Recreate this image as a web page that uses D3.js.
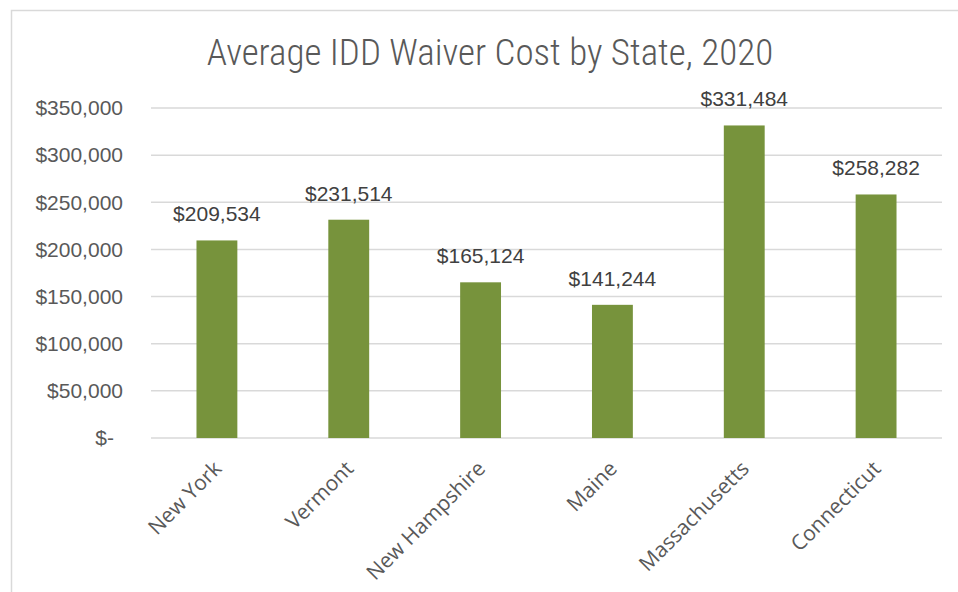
<!DOCTYPE html>
<html>
<head>
<meta charset="utf-8">
<script src="https://cdn.jsdelivr.net/npm/d3@7"></script>
<style>
  body { margin: 0; background: #fff; }
  svg { display: block; }
</style>
</head>
<body>
<script>
// data
const states = ["New York", "Vermont", "New Hampshire", "Maine", "Massachusetts", "Connecticut"];
const costs = [209534, 231514, 165124, 141244, 331484, 258282];
const yTicks = [0, 50000, 100000, 150000, 200000, 250000, 300000, 350000];

const width = 958, height = 592;
const margin = { top: 108, right: 16, bottom: 154, left: 151 };
const textColor = "#595959";

const svg = d3.select("body").append("svg")
    .attr("width", width)
    .attr("height", height);

// chart frame
svg.append("rect")
    .attr("x", 11.5).attr("y", 10.5)
    .attr("width", 970).attr("height", 600)
    .attr("fill", "none")
    .attr("stroke", "#d9d9d9")
    .attr("stroke-width", 1.5);

const x = d3.scaleBand()
    .domain(states)
    .range([margin.left, width - margin.right])
    .paddingInner(0.69)
    .paddingOuter(0.345);

const xCat = d3.scaleBand()
    .domain(states)
    .range([margin.left, width - margin.right]);

const y = d3.scaleLinear()
    .domain([0, 350000])
    .range([height - margin.bottom, margin.top]);

// title
svg.append("text")
    .attr("x", 490).attr("y", 65)
    .attr("text-anchor", "middle")
    .style("font-family", "'Liberation Sans Narrow', 'Roboto Condensed', 'DejaVu Sans Condensed', sans-serif")
    .style("font-size", "37px")
    .style("font-weight", 300)
    .attr("fill", textColor)
    .text("Average IDD Waiver Cost by State, 2020");

// gridlines
svg.append("g")
  .selectAll("line")
  .data(yTicks)
  .join("line")
    .attr("x1", margin.left).attr("x2", width - margin.right)
    .attr("y1", d => y(d)).attr("y2", d => y(d))
    .attr("stroke", "#d9d9d9")
    .attr("stroke-width", 1.5);

// y axis labels
const fmt = d => d === 0 ? "$-" : "$" + d3.format(",")(d);
const yAxis = svg.append("g")
    .attr("transform", "translate(" + (margin.left - 28) + ",0)")
    .call(d3.axisLeft(y).tickValues(yTicks).tickFormat(fmt).tickSize(0).tickPadding(0));
yAxis.select(".domain").remove();
yAxis.selectAll("text")
    .style("font-family", "'Liberation Sans', Arial, sans-serif")
    .style("font-size", "21px")
    .attr("fill", textColor)
    .attr("dx", d => d === 0 ? -9 : 0);

// bars
svg.append("g")
  .selectAll("rect")
  .data(states)
  .join("rect")
    .attr("x", d => x(d))
    .attr("y", (d, i) => y(costs[i]))
    .attr("width", x.bandwidth())
    .attr("height", (d, i) => y(0) - y(costs[i]))
    .attr("fill", "#77933c");

// data labels
svg.append("g")
  .selectAll("text")
  .data(states)
  .join("text")
    .attr("x", d => xCat(d) + xCat.bandwidth() / 2)
    .attr("y", (d, i) => y(costs[i]) - 19)
    .attr("text-anchor", "middle")
    .style("font-family", "'Liberation Sans', Arial, sans-serif")
    .style("font-size", "21px")
    .attr("fill", "#404040")
    .text((d, i) => "$" + d3.format(",")(costs[i]));

// x axis labels
const xAxis = svg.append("g")
    .attr("transform", "translate(0," + y(0) + ")")
    .call(d3.axisBottom(xCat).tickSize(0).tickPadding(0));
xAxis.select(".domain").remove();
xAxis.selectAll("text")
    .style("font-family", "'Open Sans', 'Liberation Sans', sans-serif")
    .style("font-size", "21px")
    .attr("fill", textColor)
    .attr("text-anchor", "end")
    .attr("dy", null)
    .attr("transform", "translate(6,32) rotate(-45)");
</script>
</body>
</html>
